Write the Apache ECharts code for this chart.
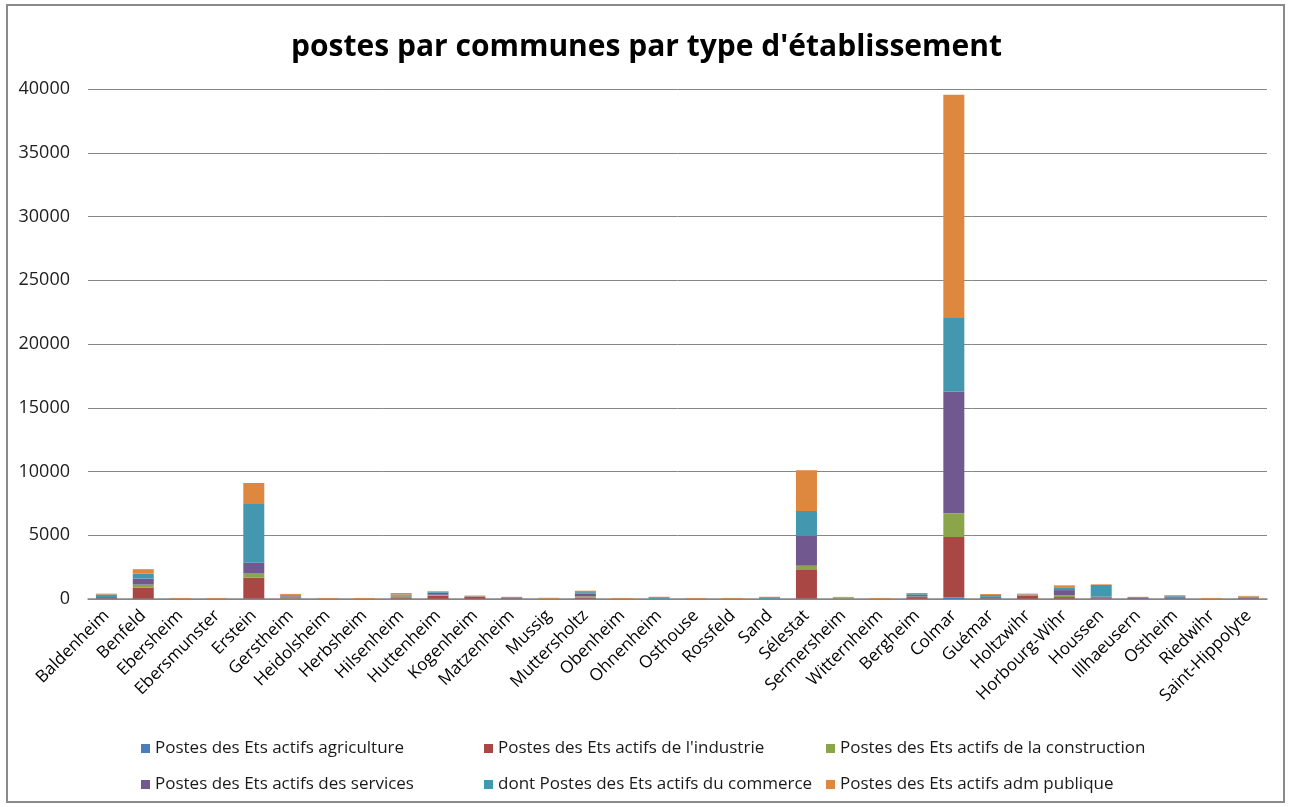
<!DOCTYPE html>
<html>
<head>
<meta charset="utf-8">
<script src="https://cdn.jsdelivr.net/npm/echarts@6/dist/echarts.min.js"></script>
<style>
  html, body { margin: 0; padding: 0; background: #fff; }
  #frame { position: absolute; left: 6px; top: 4px; width: 1279px; height: 799px; border: 2px solid #8a8a8a; box-sizing: border-box; }
  #chart { position: absolute; left: 0; top: 0; width: 1293px; height: 807px; }
</style>
</head>
<body>
<div id="frame"></div>
<div id="chart"></div>
<script>
// Communes (x categories)
const communes = ['Baldenheim','Benfeld','Ebersheim','Ebersmunster','Erstein','Gerstheim','Heidolsheim','Herbsheim','Hilsenheim','Huttenheim','Kogenheim','Matzenheim','Mussig','Muttersholtz','Obenheim','Ohnenheim','Osthouse','Rossfeld','Sand','Sélestat','Sermersheim','Witternheim','Bergheim','Colmar','Guémar','Holtzwihr','Horbourg-Wihr','Houssen','Illhaeusern','Ostheim','Riedwihr','Saint-Hippolyte'];

// Postes par type d'établissement, one value per commune
const agriculture  = [20, 30, 5, 5, 40, 20, 5, 5, 30, 20, 20, 10, 5, 30, 5, 20, 5, 5, 20, 40, 30, 5, 20, 130, 40, 20, 30, 30, 20, 60, 5, 20];
const industrie    = [20, 850, 5, 5, 1630, 30, 5, 5, 40, 240, 170, 20, 5, 60, 5, 5, 5, 5, 5, 2290, 5, 5, 130, 4730, 30, 220, 120, 40, 10, 30, 5, 20];
const construction = [10, 250, 5, 5, 370, 140, 5, 5, 140, 70, 10, 10, 5, 120, 5, 5, 5, 5, 5, 280, 100, 5, 40, 1860, 20, 50, 150, 30, 5, 10, 5, 5];
const services     = [100, 470, 5, 5, 810, 60, 5, 5, 50, 160, 10, 90, 5, 230, 5, 5, 5, 5, 5, 2330, 5, 5, 120, 9555, 80, 60, 400, 80, 100, 100, 5, 80];
const commerce     = [200, 390, 5, 5, 4600, 70, 5, 5, 90, 80, 10, 10, 5, 100, 5, 110, 5, 5, 110, 1960, 5, 5, 70, 5760, 150, 20, 220, 920, 5, 70, 5, 60];
const admPublique  = [70, 350, 60, 60, 1650, 80, 60, 60, 120, 50, 50, 30, 70, 110, 60, 30, 60, 60, 30, 3200, 20, 60, 90, 17520, 70, 50, 150, 50, 30, 40, 60, 60];

// Y axis ticks
const yMin = 0, yMax = 40000, yStep = 5000;

const seriesDefs = [
  { name: 'Postes des Ets actifs agriculture',        data: agriculture,  color: '#4a7ebb' },
  { name: "Postes des Ets actifs de l'industrie",     data: industrie,    color: '#a94745' },
  { name: 'Postes des Ets actifs de la construction', data: construction, color: '#8ba54b' },
  { name: 'Postes des Ets actifs des services',       data: services,     color: '#71598f' },
  { name: 'dont Postes des Ets actifs du commerce',   data: commerce,     color: '#4398b0' },
  { name: 'Postes des Ets actifs adm publique',       data: admPublique,  color: '#de873f' }
];

const FONT = '"Open Sans", "Liberation Sans", sans-serif';

// Legend laid out as 2 rows x 3 columns
const legendCols = [141, 484, 826];
const legendRows = [740, 776];
const legends = seriesDefs.map((s, i) => ({
  data: [s.name],
  left: legendCols[i % 3],
  top: legendRows[Math.floor(i / 3)],
  orient: 'horizontal',
  icon: 'rect',
  itemWidth: 9,
  itemHeight: 9,
  itemGap: 0,
  padding: 0,
  textStyle: { fontFamily: FONT, fontSize: 17, color: '#1a1a1a', padding: [0, 0, 0, 0] },
  selectedMode: false
}));

const chart = echarts.init(document.getElementById('chart'), null, { renderer: 'canvas' });
chart.setOption({
  animation: false,
  backgroundColor: 'transparent',
  title: {
    text: "postes par communes par type d'établissement",
    left: 'center',
    top: 27,
    textStyle: { fontFamily: FONT, fontSize: 30, fontWeight: 'bold', color: '#000' }
  },
  legend: legends,
  grid: { left: 88, right: 26, top: 89, bottom: 208, containLabel: false },
  xAxis: {
    type: 'category',
    data: communes,
    axisLine: { show: true, lineStyle: { color: '#868686', width: 1.5 } },
    axisTick: { show: false },
    axisLabel: {
      interval: 0,
      rotate: 45,
      margin: 14,
      fontFamily: FONT,
      fontSize: 17,
      color: '#000'
    }
  },
  yAxis: {
    type: 'value',
    min: yMin,
    max: yMax,
    interval: yStep,
    axisLine: { show: false },
    axisTick: { show: false },
    axisLabel: {
      fontFamily: FONT, fontSize: 18, color: '#202020', margin: 18,
      formatter: v => String(v)
    },
    splitLine: { lineStyle: { color: '#868686', width: 1 } }
  },
  series: seriesDefs.map(s => ({
    name: s.name,
    type: 'bar',
    stack: 'total',
    data: s.data,
    barCategoryGap: '43%',
    itemStyle: { color: s.color },
    emphasis: { disabled: true }
  }))
});
</script>
</body>
</html>
